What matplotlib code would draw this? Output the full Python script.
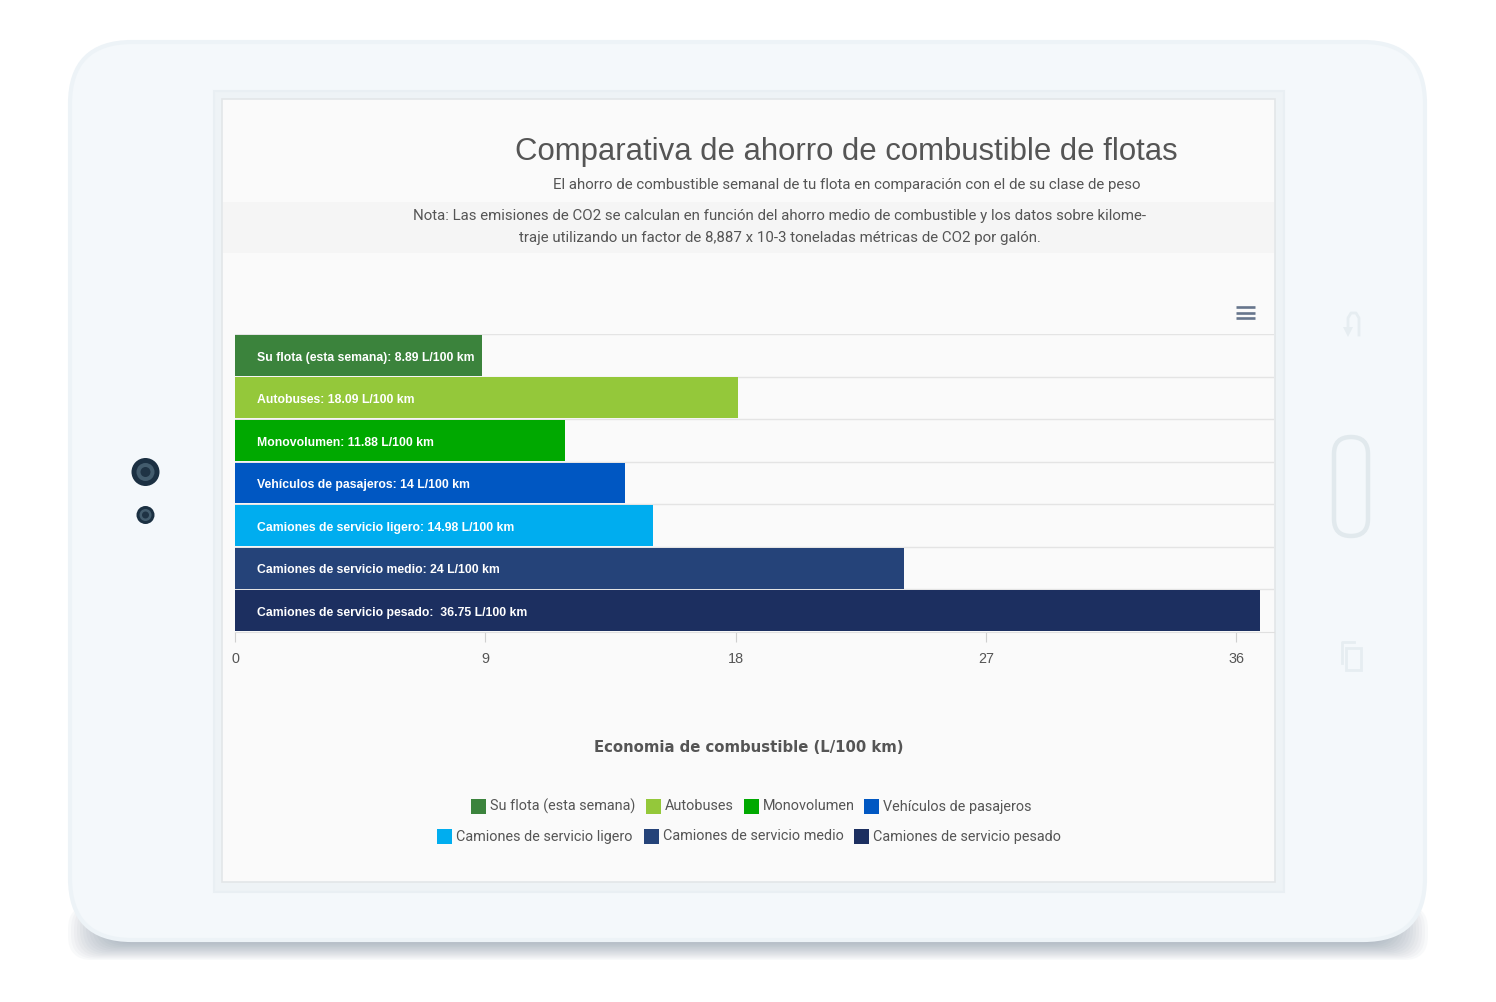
import matplotlib
matplotlib.use("Agg")
import matplotlib.pyplot as plt
from matplotlib.patches import FancyBboxPatch, Rectangle, Circle, Polygon

W, H = 1496, 1002

categories = ["Su flota (esta semana)", "Autobuses", "Monovolumen", "Vehículos de pasajeros",
              "Camiones de servicio ligero", "Camiones de servicio medio", "Camiones de servicio pesado"]
values = [8.89, 18.09, 11.88, 14.02, 15.03, 24.06, 36.85]
bar_labels = ["Su flota (esta semana): 8.89 L/100 km", "Autobuses: 18.09 L/100 km",
              "Monovolumen: 11.88 L/100 km", "Vehículos de pasajeros: 14 L/100 km",
              "Camiones de servicio ligero: 14.98 L/100 km", "Camiones de servicio medio: 24 L/100 km",
              "Camiones de servicio pesado:  36.75 L/100 km"]
colors = ["#3b833c", "#94c83a", "#00a900", "#0057c2", "#00adef", "#254379", "#1c2f60"]
x_ticks = [0, 9, 18, 27, 36]

title = "Comparativa de ahorro de combustible de flotas"
subtitle = "El ahorro de combustible semanal de tu flota en comparación con el de su clase de peso"
note1 = "Nota: Las emisiones de CO2 se calculan en función del ahorro medio de combustible y los datos sobre kilome-"
note2 = "traje utilizando un factor de 8,887 x 10-3 toneladas métricas de CO2 por galón."
x_title = "Economia de combustible (L/100 km)"

plt.rcParams["font.family"] = ["Liberation Sans", "DejaVu Sans"]
narrow = ["Roboto", "Liberation Sans"]

fig = plt.figure(figsize=(W / 100, H / 100), dpi=100, facecolor="white")

# tablet drawn in pixel coordinates on a background axes
bg = fig.add_axes([0, 0, 1, 1], zorder=0)
bg.set_xlim(0, W)
bg.set_ylim(H, 0)
bg.axis("off")


def rounded(x0, y0, x1, y1, r, **kw):
  p = FancyBboxPatch((x0 + r, y0 + r), x1 - x0 - 2 * r, y1 - y0 - 2 * r,
                     boxstyle="round,pad=%f,rounding_size=%f" % (r, r), **kw)
  bg.add_patch(p)


# shadow under the tablet, nested so it fades outwards
for i in range(16):
  rounded(68 + i * 3, 905, 1428 - i * 3, 960 - i * 1.3, 24, fc="#5f7388", ec="none", alpha=0.04)

rounded(70, 42, 1425, 940, 62, fc="#f4f8fb", ec="#edf3f7", lw=3)
bg.add_patch(Rectangle((214, 91), 1070, 801, fc="#eef3f6", ec="#e9eff3", lw=1.5))
bg.add_patch(Rectangle((222.5, 99), 1052.5, 783, fc="#fafafa", ec="#e3e6e8", lw=1.2))
bg.add_patch(Rectangle((223.5, 202), 1051, 51, fc="#f5f5f5", ec="none"))

# camera
bg.add_patch(Circle((145.5, 472), 14, fc="#1b3042", ec="none"))
bg.add_patch(Circle((145.5, 472), 9, fc="#435c6d", ec="none"))
bg.add_patch(Circle((145.5, 472), 5, fc="#1f3344", ec="none"))
bg.add_patch(Circle((145.5, 515), 9, fc="#1b3042", ec="none"))
bg.add_patch(Circle((145.5, 515), 6, fc="#435c6d", ec="none"))
bg.add_patch(Circle((145.5, 515), 3.5, fc="#1f3344", ec="none"))

# home button and side icons
rounded(1334, 437, 1368, 536, 17, fc="none", ec="#e1e9ed", lw=3.2)
icon = "#e6edf1"
bg.plot([1359, 1359, 1356, 1351, 1348, 1348], [335, 318, 313, 313, 318, 328], color=icon, lw=2)
bg.add_patch(Polygon([(1343, 327), (1353, 327), (1348, 337)], fc=icon, ec="none"))
bg.add_patch(Rectangle((1346, 648), 15, 22, fc="#f4f8fb", ec=icon, lw=2))
bg.plot([1342, 1342, 1354], [663, 642, 642], color=icon, lw=2)

# hamburger menu
for y in [307, 313, 318]:
  bg.plot([1236, 1255], [y, y], color="#66758c", lw=1.9, solid_capstyle="butt")

# headings
bg.text(846.5, 152, title, ha="center", va="center", fontsize=22.4, color="#555555")
bg.text(846.5, 185, subtitle, ha="center", va="center", fontsize=10.8, color="#555555", family=narrow)
bg.text(780, 216, note1, ha="center", va="center", fontsize=10.78, color="#555555", family=narrow)
bg.text(780, 238, note2, ha="center", va="center", fontsize=10.78, color="#555555", family=narrow)
bg.text(749, 747, x_title, ha="center", va="center", fontsize=10.7, fontweight="bold", color="#555555",
        family="DejaVu Sans")

# chart
ax = fig.add_axes([235 / W, 1 - 632 / H, (1274 - 235) / W, 298 / H], zorder=1)
ax.patch.set_alpha(0)
ypos = list(range(len(values)))
ax.barh(ypos, values, height=0.96, color=colors, zorder=3)
ax.set_xlim(0, 37.35)
ax.set_ylim(6.5, -0.5)
for s in ["top", "right", "left"]:
  ax.spines[s].set_visible(False)
ax.spines["bottom"].set_color("#e0e0e0")
ax.set_xticks(x_ticks)
ax.tick_params(axis="x", length=7, width=0.8, color="#cfcfcf", labelsize=10.4, labelcolor="#555555", pad=7.5)
ax.set_yticks([])
for edge in [-0.5, 0.5, 1.5, 2.5, 3.5, 4.5, 5.5]:
  ax.axhline(edge, color="#e4e4e4", lw=1, zorder=1)
for y, lab in zip(ypos, bar_labels):
  ax.annotate(lab, (0, y), xytext=(16, -1.6), textcoords="offset points", va="center", ha="left",
              color="white", fontsize=8.8, fontweight="bold", zorder=4)

# legend in two centred rows like the reference
legend_x = [471, 646, 744, 864, 437, 644, 854]
legend_y = [806, 806, 806, 806, 836, 836, 836]
for lx, ly, c, name in zip(legend_x, legend_y, colors, categories):
  bg.add_patch(Rectangle((lx, ly - 7.5), 15, 15, fc=c, ec="none"))
  bg.text(lx + 19, ly + 0.5, name, ha="left", va="center", fontsize=10.4, color="#555555", family=narrow)

fig.savefig("out.png", dpi=100)
